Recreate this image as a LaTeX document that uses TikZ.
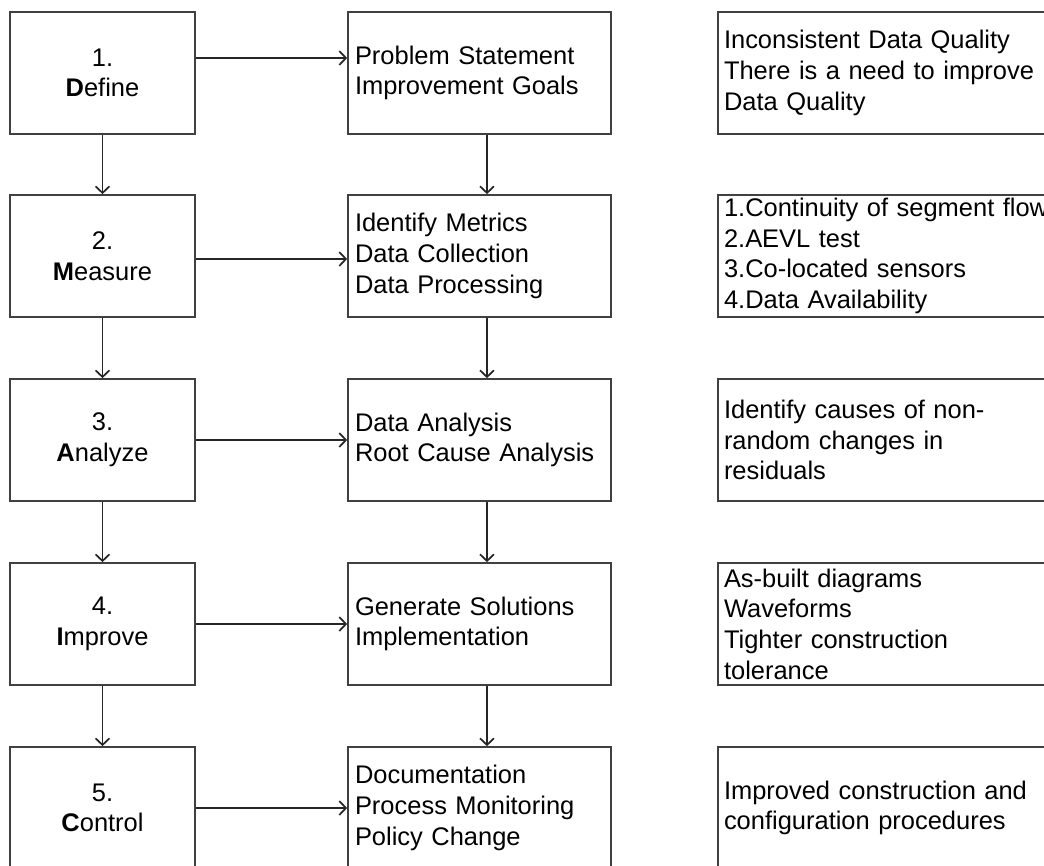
\documentclass[tikz,border=0pt]{standalone}
\usepackage{fontspec}
\setmainfont{Liberation Sans}
\usetikzlibrary{arrows.meta}
\begin{document}
\begin{tikzpicture}[x=0.75pt,y=-0.75pt,
  box/.style={draw=black!75, line width=1.3pt, rectangle, minimum height=91.5pt,
    inner ysep=0pt, font=\fontsize{19.1pt}{23pt}\selectfont},
  phase/.style={box, minimum width=138.75pt, inner xsep=0pt, text width=138.75pt, align=center},
  task/.style={box, minimum width=197.25pt, inner xsep=5.25pt, text width=186.75pt, align=left},
  note/.style={box, minimum width=270pt, inner xsep=4.5pt, text width=261pt, align=left},
  flow/.style={draw=black!85, line width=1.3pt, -{Straight Barb[length=5pt,width=10.5pt,line width=1.3pt]}}
]
\useasboundingbox (0,0) rectangle (1044,865);
\clip (0,0) rectangle (1044,865);
\fill[white] (0,0) rectangle (1044,865);

% DMAIC phases
\node[phase] (d) at (102.5,73)  {1.\\\textbf{D}efine};
\node[phase] (m) at (102.5,256) {2.\\\textbf{M}easure};
\node[phase] (a) at (102.5,440) {3.\\\textbf{A}nalyze};
\node[phase] (i) at (102.5,624) {4.\\\textbf{I}mprove};
\node[phase] (c) at (102.5,808) {5.\\\textbf{C}ontrol};

% activities of each phase
\node[task] (td) at (479.5,73)  {Problem Statement\\Improvement Goals};
\node[task] (tm) at (479.5,256) {Identify Metrics\\Data Collection\\Data Processing};
\node[task] (ta) at (479.5,440) {Data Analysis\\Root Cause Analysis};
\node[task] (ti) at (479.5,624) {Generate Solutions\\Implementation};
\node[task] (tc) at (479.5,808) {Documentation\\Process Monitoring\\Policy Change};

% outcomes
\node[note] (nd) at (898,73)  {Inconsistent Data Quality\\There is a need to improve\\Data Quality};
\node[note] (nm) at (898,256) {1.Continuity of segment flow\\2.AEVL test\\3.Co-located sensors\\4.Data Availability};
\node[note] (na) at (898,440) {Identify causes of non-\\random changes in\\residuals};
\node[note] (ni) at (898,624) {As-built diagrams\\Waveforms\\Tighter construction\\tolerance};
\node[note] (nc) at (898,808) {Improved construction and\\configuration procedures};

% phase to activity
\draw[flow] ([yshift=11.25pt]d.east) -- ([yshift=11.25pt]td.west);
\draw[flow] ([yshift=-2.25pt]m.east) -- ([yshift=-2.25pt]tm.west);
\draw[flow] (a.east) -- (ta.west);
\draw[flow] (i.east) -- (ti.west);
\draw[flow] (c.east) -- (tc.west);

% phase sequence
\draw[flow] (d) -- (m);
\draw[flow] (m) -- (a);
\draw[flow] (a) -- (i);
\draw[flow] (i) -- (c);

% activity sequence
\draw[flow] ([xshift=5.6pt]td.south) -- ([xshift=5.6pt]tm.north);
\draw[flow] ([xshift=5.6pt]tm.south) -- ([xshift=5.6pt]ta.north);
\draw[flow] ([xshift=5.6pt]ta.south) -- ([xshift=5.6pt]ti.north);
\draw[flow] ([xshift=5.6pt]ti.south) -- ([xshift=5.6pt]tc.north);
\end{tikzpicture}
\end{document}
